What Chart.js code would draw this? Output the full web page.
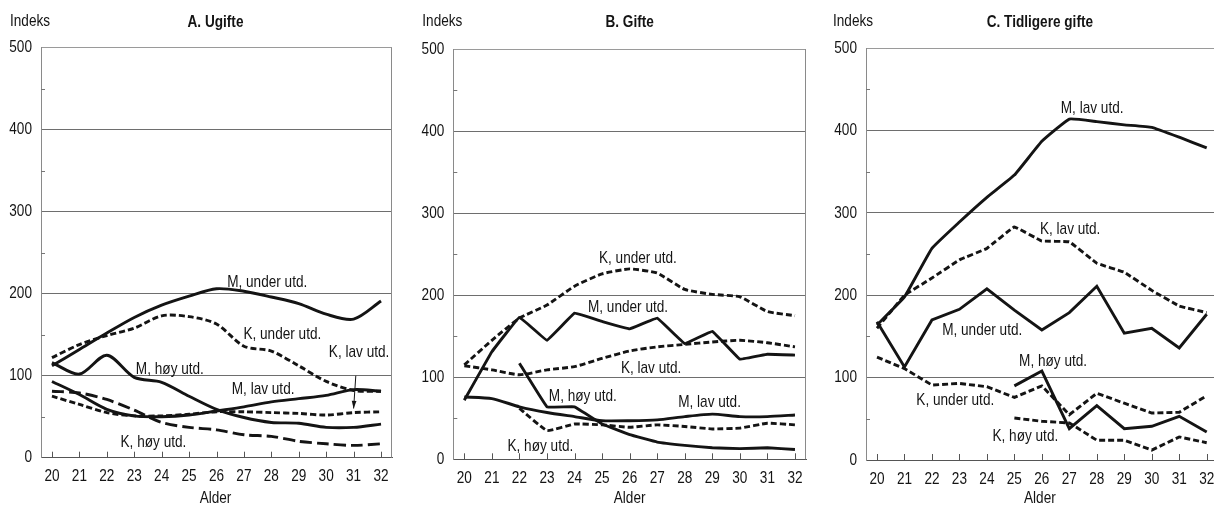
<!DOCTYPE html>
<html>
<head>
<meta charset="utf-8">
<script src="https://cdn.jsdelivr.net/npm/chart.js@4.4.1/dist/chart.umd.min.js"></script>
<style>
  html, body { margin: 0; padding: 0; background: #fff; overflow: hidden; }
  body { width: 1214px; height: 509px; position: relative; }
  canvas { position: absolute; top: 0; }
</style>
</head>
<body>
<canvas id="cA" width="404" height="509" style="left:0px;width:404px;height:509px"></canvas>
<canvas id="cB" width="404" height="509" style="left:405px;width:404px;height:509px"></canvas>
<canvas id="cC" width="410" height="509" style="left:810px;width:410px;height:509px"></canvas>
<script>
// alder 20-32
const ages = [20, 21, 22, 23, 24, 25, 26, 27, 28, 29, 30, 31, 32];
const yTicks = [0, 100, 200, 300, 400, 500];

// A. Ugifte
const a_M_under = [112, 132, 152, 171, 186, 197, 206, 203, 196, 188, 175, 169, 191];
const a_K_under = [122, 138, 149, 158, 173, 172, 163, 136, 130, 112, 93, 82, 81];
const a_M_hoy   = [116, 102, 125, 98, 92, 75, 59, 49, 43, 42, 37, 37, 41];
const a_M_lav   = [93, 77, 59, 51, 50, 52, 57, 62, 68, 72, 76, 83, 81];
const a_K_lav   = [75, 65, 55, 51, 51, 53, 56, 56, 55, 54, 52, 55, 56];
const a_K_hoy   = [81, 79, 71, 58, 43, 37, 34, 28, 26, 20, 17, 15, 17];

// B. Gifte
const b_K_under = [115, 145, 172, 188, 211, 226, 232, 227, 207, 201, 198, 180, 175];
const b_M_under = [72, 131, 173, 145, 178, 168, 159, 172, 141, 156, 122, 128, 127];
const b_K_lav   = [114, 109, 103, 109, 113, 123, 132, 137, 140, 143, 145, 142, 137];
const b_M_hoy   = [null, null, 117, 64, 64, 43, 30, 21, 17, 14, 13, 14, 12];
const b_M_lav   = [76, 74, 64, 57, 52, 47, 47, 48, 52, 55, 52, 52, 54];
const b_K_hoy   = [null, null, 62, 35, 43, 42, 39, 42, 40, 37, 38, 44, 42];

// C. Tidligere gifte
const c_M_lav   = [164, 198, 257, 289, 319, 346, 387, 414, 411, 407, 404, 392, 379];
const c_K_lav   = [160, 200, 221, 243, 257, 283, 266, 265, 239, 228, 206, 187, 179];
const c_M_under = [168, 113, 170, 183, 208, 182, 158, 179, 211, 154, 160, 136, 177];
const c_K_under = [125, 111, 91, 93, 89, 76, 90, 55, 81, 69, 57, 58, 78];
const c_M_hoy   = [null, null, null, null, null, 90, 108, 38, 66, 38, 41, 53, 34];
const c_K_hoy   = [null, null, null, null, null, 51, 47, 45, 24, 24, 12, 28, 21];

const FONT = "'Liberation Sans', Arial, sans-serif";
const NARROW = 0.8;   // smal skrift: skaler teksten vannrett
const INK = '#141414';
const SHORT = [6, 3];
const LONG = [12, 5];

function pts(arr) {
  return ages.map((a, i) => ({ x: a, y: arr[i] }));
}

function line(arr, dash, tension) {
  return {
    data: pts(arr),
    borderColor: INK,
    borderWidth: 2.9,
    borderDash: dash || [],
    borderCapStyle: 'butt',
    pointRadius: 0,
    tension: tension,
    spanGaps: false,
    fill: false
  };
}

function txt(c, s, x, y, align) {
  c.save();
  c.translate(x, y);
  c.scale(NARROW, 1);
  c.textAlign = align || 'center';
  c.fillText(s, 0, 0);
  c.restore();
}

// tekst, ramme og små tikker
const decor = {
  id: 'decor',
  afterDraw(chart, args, o) {
    const c = chart.ctx, ca = chart.chartArea;
    const xs = chart.scales.x, ys = chart.scales.y;
    c.save();
    // høyre kant
    if (o.rightBorder) {
      c.strokeStyle = '#8a8a8a'; c.lineWidth = 1;
      c.beginPath(); c.moveTo(ca.right - 0.5, ca.top); c.lineTo(ca.right - 0.5, ca.bottom); c.stroke();
    }
    // tikker på x-aksen
    c.strokeStyle = '#555'; c.lineWidth = 1;
    xs.ticks.forEach(t => {
      const x = Math.round(xs.getPixelForValue(t.value)) + 0.5;
      c.beginPath(); c.moveTo(x, ca.bottom); c.lineTo(x, ca.bottom - 6); c.stroke();
    });
    // små tikker på y-aksen
    c.strokeStyle = '#777';
    [50, 150, 250, 350, 450].forEach(v => {
      const y = Math.round(ys.getPixelForValue(v)) + 0.5;
      c.beginPath(); c.moveTo(ca.left, y); c.lineTo(ca.left + 4, y); c.stroke();
    });
    c.fillStyle = INK;
    c.textBaseline = 'middle';
    // aksetall
    c.font = '17px ' + FONT;
    xs.ticks.forEach(t => txt(c, String(t.value), xs.getPixelForValue(t.value), ca.bottom + 19, 'center'));
    ys.ticks.forEach(t => txt(c, String(t.value), ca.left - 9, ys.getPixelForValue(t.value), 'right'));
    // overskrifter
    txt(c, 'Indeks', ca.left - o.indeksOffset, 21, 'left');
    txt(c, 'Alder', (ca.left + ca.right) / 2 + o.titleShift, 498, 'center');
    c.font = 'bold 17px ' + FONT;
    txt(c, o.title, (ca.left + ca.right) / 2 + o.titleShift, 22, 'center');
    // etiketter
    c.font = '17px ' + FONT;
    o.labels.forEach(l => txt(c, l.text, xs.getPixelForValue(l.x), ys.getPixelForValue(l.y), 'center'));
    // pil
    if (o.arrow) {
      const x1 = xs.getPixelForValue(o.arrow[0]), y1 = ys.getPixelForValue(o.arrow[1]);
      const x2 = xs.getPixelForValue(o.arrow[2]), y2 = ys.getPixelForValue(o.arrow[3]);
      c.strokeStyle = INK; c.lineWidth = 1;
      c.beginPath(); c.moveTo(x1, y1); c.lineTo(x2, y2); c.stroke();
      const ang = Math.atan2(y2 - y1, x2 - x1);
      c.beginPath();
      c.moveTo(x2, y2);
      c.lineTo(x2 - 8 * Math.cos(ang - 0.3), y2 - 8 * Math.sin(ang - 0.3));
      c.lineTo(x2 - 8 * Math.cos(ang + 0.3), y2 - 8 * Math.sin(ang + 0.3));
      c.closePath(); c.fill();
    }
    c.restore();
  }
};

function makePanel(id, datasets, box, deco) {
  new Chart(document.getElementById(id), {
    type: 'line',
    data: { datasets: datasets },
    options: {
      responsive: false,
      animation: false,
      events: [],
      layout: { padding: { left: 0, top: box.top, right: box.right, bottom: 0 } },
      plugins: { legend: { display: false }, tooltip: { enabled: false }, decor: deco },
      scales: {
        x: {
          type: 'linear', min: 19.6, max: 32.4,
          afterBuildTicks: s => { s.ticks = ages.map(v => ({ value: v })); },
          afterFit: s => { s.height = box.xh; },
          grid: { display: false, drawTicks: false },
          border: { display: true, color: '#555', width: 1 },
          ticks: { display: false }
        },
        y: {
          min: 0, max: 500,
          afterBuildTicks: s => { s.ticks = yTicks.map(v => ({ value: v })); },
          afterFit: s => { s.width = box.yw; },
          grid: {
            drawTicks: false,
            color: ctx => ctx.tick.value === 0 ? 'rgba(0,0,0,0)' : (ctx.tick.value === 500 ? '#9a9a9a' : '#6e6e6e'),
            lineWidth: 1
          },
          border: { display: true, color: '#8a8a8a', width: 1 },
          ticks: { display: false }
        }
      }
    },
    plugins: [decor]
  });
}

makePanel('cA', [
  line(a_M_under, null, 0.3),
  line(a_K_under, SHORT, 0.3),
  line(a_M_hoy, null, 0.3),
  line(a_M_lav, null, 0.3),
  line(a_K_lav, SHORT, 0.3),
  line(a_K_hoy, LONG, 0.3)
], { top: 47.7, right: 12, yw: 41, xh: 51.3 }, {
  title: 'A. Ugifte', titleShift: -1, indeksOffset: 31, rightBorder: true,
  labels: [
    { text: 'M, under utd.', x: 27.85, y: 214 },
    { text: 'K, under utd.', x: 28.4, y: 151 },
    { text: 'K, lav utd.', x: 31.2, y: 128 },
    { text: 'M, høy utd.', x: 24.3, y: 108 },
    { text: 'M, lav utd.', x: 27.7, y: 83 },
    { text: 'K, høy utd.', x: 23.7, y: 19 }
  ],
  arrow: [31.08, 100, 31.0, 60]
});

makePanel('cB', [
  line(b_K_under, SHORT, 0.15),
  line(b_M_under, null, 0.05),
  line(b_K_lav, SHORT, 0.2),
  line(b_M_hoy, null, 0.05),
  line(b_M_lav, null, 0.2),
  line(b_K_hoy, SHORT, 0.1)
], { top: 49, right: 3, yw: 48.3, xh: 49.7 }, {
  title: 'B. Gifte', titleShift: 0, indeksOffset: 31, rightBorder: true,
  labels: [
    { text: 'K, under utd.', x: 26.3, y: 245 },
    { text: 'M, under utd.', x: 25.94, y: 185 },
    { text: 'K, lav utd.', x: 26.78, y: 111 },
    { text: 'M, høy utd.', x: 24.3, y: 77 },
    { text: 'M, lav utd.', x: 28.9, y: 69 },
    { text: 'K, høy utd.', x: 22.76, y: 16 }
  ]
});

makePanel('cC', [
  line(c_M_lav, null, 0.1),
  line(c_K_lav, SHORT, 0.05),
  line(c_M_under, null, 0),
  line(c_K_under, SHORT, 0),
  line(c_M_hoy, null, 0),
  line(c_K_hoy, SHORT, 0)
], { top: 48.3, right: 2.3, yw: 56, xh: 49 }, {
  title: 'C. Tidligere gifte', titleShift: -2, indeksOffset: 33, rightBorder: false,
  labels: [
    { text: 'M, lav utd.', x: 27.83, y: 427 },
    { text: 'K, lav utd.', x: 27.03, y: 280 },
    { text: 'M, under utd.', x: 23.83, y: 157 },
    { text: 'M, høy utd.', x: 26.41, y: 120 },
    { text: 'K, under utd.', x: 22.85, y: 72 },
    { text: 'K, høy utd.', x: 25.4, y: 29 }
  ]
});
</script>
</body>
</html>
